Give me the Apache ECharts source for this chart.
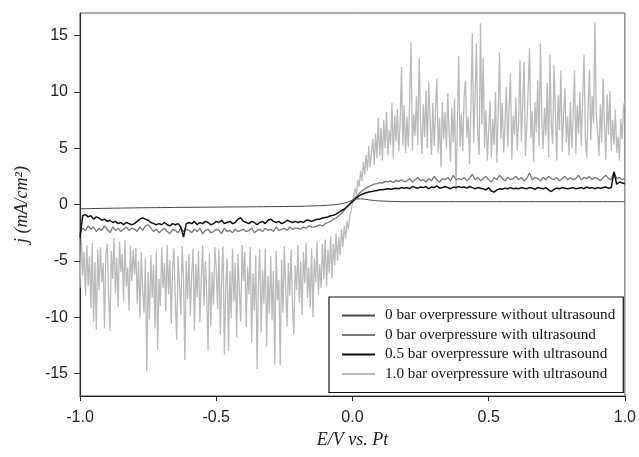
<!DOCTYPE html>
<html>
<head>
<meta charset="utf-8">
<script src="https://cdn.jsdelivr.net/npm/echarts@6/dist/echarts.min.js"></script>
<style>
html,body{margin:0;padding:0;background:#fff;}
#chart{width:639px;height:457px;}
</style>
</head>
<body>
<div id="chart"></div>
<script>
// Axis ticks
const xTicks = [-1.0, -0.5, 0.0, 0.5, 1.0];
const yTicks = [-15, -10, -5, 0, 5, 10, 15];

// Legend names
const seriesNames = [
  "0 bar overpressure without ultrasound",
  "0 bar overpressure with ultrasound",
  "0.5 bar overpressure with ultrasound",
  "1.0 bar overpressure with ultrasound"
];

// Series 1: 0 bar without ultrasound (smooth, sparse samples)
const s1E = [-1.0, -0.8, -0.6, -0.4, -0.3, -0.2, -0.15, -0.1, -0.07, -0.05, -0.03, -0.01, 0.0, 0.01, 0.02, 0.03, 0.05, 0.07, 0.1, 0.15, 0.2, 0.3, 0.5, 0.7, 1.0];
const s1J = [-0.38, -0.3, -0.25, -0.21, -0.19, -0.16, -0.13, -0.08, -0.03, 0.03, 0.12, 0.28, 0.38, 0.46, 0.5, 0.5, 0.45, 0.38, 0.32, 0.27, 0.25, 0.25, 0.25, 0.25, 0.25];

// Series 2: 0 bar with ultrasound, E from -1.00 step 0.01
const s2Start = -1.0, s2Step = 0.01;
const s2J = [
 -2.6,-2.1,-2.3,-1.9,-2.2,-2.0,-2.4,-2.1,-2.3,-1.9,-2.2,-2.5,-2.0,-2.3,-2.1,-2.4,-2.2,-2.0,-2.3,-2.1,
 -2.2,-2.4,-2.0,-2.3,-1.9,-1.8,-2.1,-2.4,-2.2,-2.5,-2.3,-2.1,-2.4,-2.6,-2.2,-2.3,-2.5,-2.1,-2.4,-2.2,
 -2.3,-2.5,-2.2,-2.4,-2.1,-2.6,-2.3,-2.2,-2.5,-2.4,-2.2,-2.3,-2.6,-2.1,-2.4,-2.3,-2.5,-2.2,-2.4,-2.3,
 -2.2,-2.4,-2.3,-2.1,-2.5,-2.3,-2.2,-2.4,-2.1,-2.3,-2.2,-2.4,-2.0,-2.3,-2.2,-2.1,-2.3,-2.0,-2.2,-2.1,
 -2.1,-2.2,-2.0,-2.1,-1.9,-2.0,-2.0,-1.9,-1.8,-1.9,-1.7,-1.6,-1.5,-1.3,-1.2,-1.0,-0.8,-0.5,-0.2,0.1,
 0.35,0.6,0.85,1.1,1.3,1.45,1.6,1.7,1.8,1.85,1.95,1.9,2.05,2.0,2.1,1.95,2.15,2.05,2.2,2.0,
 2.1,2.3,2.0,2.2,2.4,2.1,2.2,2.0,2.3,2.1,2.5,2.2,2.0,2.3,2.2,2.4,2.1,2.6,2.2,2.3,
 2.2,2.4,2.1,2.3,2.7,2.2,2.4,2.1,2.3,2.5,2.2,2.0,2.4,2.2,2.6,2.3,2.1,2.4,2.2,2.3,
 2.5,2.2,2.4,2.1,2.3,2.8,2.2,2.4,2.3,2.1,2.4,2.2,2.5,2.3,2.2,2.4,2.1,2.3,2.5,2.2,
 2.4,2.2,2.3,2.6,2.2,2.4,2.3,2.5,2.2,2.4,2.3,2.1,2.4,2.6,2.3,2.2,2.9,2.3,2.4,2.2,2.3
];

// Series 3: 0.5 bar with ultrasound, E from -1.00 step 0.01
const s3Start = -1.0, s3Step = 0.01;
const s3J = [
 -2.9,-1.0,-0.9,-1.1,-1.0,-1.3,-1.1,-1.2,-1.4,-1.3,-1.5,-1.4,-1.6,-1.5,-1.7,-1.6,-1.8,-1.6,-1.7,-1.8,
 -1.7,-1.5,-1.3,-1.2,-1.3,-1.4,-1.6,-1.7,-1.8,-1.7,-1.8,-1.6,-1.8,-1.9,-1.7,-1.8,-1.7,-2.0,-2.9,-1.7,
 -1.6,-1.7,-1.5,-1.8,-1.6,-1.7,-1.5,-1.6,-1.8,-1.7,-1.5,-1.6,-1.4,-1.7,-1.6,-1.5,-1.7,-1.6,-1.3,-1.2,
 -1.5,-1.6,-1.7,-1.5,-1.6,-1.8,-1.6,-1.5,-1.7,-1.4,-1.3,-1.5,-1.6,-1.5,-1.7,-1.6,-1.4,-1.5,-1.6,-1.5,
 -1.6,-1.5,-1.6,-1.4,-1.4,-1.5,-1.4,-1.3,-1.3,-1.2,-1.15,-1.1,-1.0,-0.95,-0.85,-0.7,-0.55,-0.4,-0.2,0.0,
 0.25,0.5,0.7,0.85,0.95,1.05,1.1,1.15,1.2,1.25,1.3,1.3,1.35,1.4,1.35,1.4,1.45,1.4,1.5,1.45,
 1.5,1.4,1.6,1.5,1.45,1.55,1.5,1.6,1.4,1.55,1.5,1.65,1.45,1.5,1.6,1.5,1.4,1.55,1.5,1.6,
 1.5,1.55,1.45,1.6,1.5,1.4,1.5,1.45,1.4,1.3,1.5,1.2,1.1,1.3,1.4,1.35,1.45,1.4,1.5,1.4,
 1.45,1.4,1.5,1.45,1.4,1.5,1.45,1.35,1.5,1.45,1.4,1.5,1.3,1.15,1.35,1.45,1.4,1.5,1.45,1.4,
 1.45,1.5,1.4,1.45,1.5,1.4,1.55,1.45,1.5,1.4,1.5,1.45,1.5,1.55,1.45,1.5,2.9,1.8,2.0,1.9,1.85
];

// Series 4: 1.0 bar with ultrasound, E from -1.000 step 0.005
const s4Start = -1.0, s4Step = 0.005;
const s4J = [
 -7.4,-3.1,-6.3,-4.2,-8.1,-3.6,-7.2,-4.6,-9.2,-3.4,-10.4,-5.1,-11.1,-4.0,-7.6,-3.8,-6.9,-5.2,-11.0,-4.3,
 -3.5,-8.0,-11.2,-4.1,-6.6,-3.0,-7.9,-4.7,-9.1,-3.3,-6.0,-4.4,-8.6,-3.2,-7.3,-5.6,-9.4,-3.7,-6.8,-4.0,
 -6.2,-3.9,-8.8,-5.0,-10.1,-4.2,-7.5,-9.6,-4.8,-14.8,-6.0,-10.2,-4.5,-8.3,-5.4,-11.0,-4.1,-12.9,-6.6,-9.0,
 -3.8,-7.4,-5.2,-9.5,-3.6,-8.0,-4.9,-10.6,-5.5,-3.9,-8.7,-12.0,-4.6,-7.1,-9.8,-3.7,-6.5,-13.8,-5.0,-8.4,
 -4.4,-9.9,-6.1,-3.9,-11.2,-5.3,-8.2,-4.1,-10.5,-6.7,-3.6,-9.0,-5.0,-7.8,-13.0,-4.3,-10.8,-6.0,-8.9,-3.8,
 -5.6,-9.3,-4.0,-11.5,-6.4,-3.7,-13.3,-7.2,-4.8,-13.0,-5.9,-10.1,-3.9,-8.6,-5.2,-11.8,-4.4,-7.7,-10.4,-3.6,
 -6.8,-4.2,-10.9,-5.5,-8.0,-3.8,-12.2,-6.1,-9.4,-4.5,-14.6,-7.0,-4.0,-11.3,-5.8,-8.8,-3.9,-12.6,-6.3,-9.7,
 -4.6,-10.3,-5.9,-14.2,-4.1,-8.5,-6.7,-14.3,-4.9,-9.6,-3.7,-7.4,-10.8,-5.2,-8.1,-4.0,-9.0,-11.5,-5.4,-7.6,
 -3.6,-8.7,-5.1,-9.8,-4.2,-7.0,-3.4,-8.3,-5.6,-9.2,-3.9,-10.0,-4.8,-6.9,-3.3,-8.0,-5.3,-7.4,-3.5,-6.6,
 -3.1,-7.2,-4.0,-6.1,-2.8,-6.6,-3.5,-5.4,-2.6,-5.0,-2.9,-4.5,-2.2,-3.8,-1.9,-3.0,-1.5,-2.2,-1.0,-0.6,
 0.1,0.8,1.4,0.9,2.2,1.6,3.0,2.1,3.8,2.6,4.4,3.0,5.2,3.3,4.6,5.8,3.5,6.3,4.1,7.7,
 4.3,6.8,3.9,7.5,5.0,8.2,4.4,6.6,5.3,9.0,4.1,7.9,5.6,8.5,4.7,7.1,12.2,5.2,8.8,4.6,
 7.8,5.1,9.2,14.4,4.8,8.0,6.1,9.6,5.3,13.0,7.2,4.5,8.9,6.0,10.1,5.0,10.9,7.5,4.4,9.0,
 5.2,8.4,11.2,4.6,7.7,3.3,9.1,5.8,8.2,4.9,9.9,6.3,3.8,8.6,5.5,9.4,1.2,7.0,13.2,5.1,
 8.0,4.7,9.6,11.0,5.9,7.8,3.6,8.8,15.2,5.5,9.3,14.3,6.2,4.4,16.1,7.1,13.0,5.0,8.4,3.9,
 6.5,9.2,4.2,7.6,5.3,10.0,3.7,8.1,13.5,5.8,9.0,4.6,7.3,10.4,5.1,8.6,11.6,4.0,7.9,6.2,
 9.5,4.8,7.4,12.8,5.6,8.9,12.7,4.3,7.0,10.2,13.9,5.9,8.3,3.8,9.1,6.4,11.0,5.2,14.3,7.7,
 4.9,8.6,6.1,10.8,4.2,13.3,7.0,5.4,12.4,8.2,3.9,9.7,6.6,11.9,4.7,8.0,10.3,5.5,7.8,4.4,
 9.1,5.0,7.7,11.9,4.5,8.8,6.3,10.0,5.2,9.4,13.3,6.0,4.1,8.5,12.0,5.7,9.6,7.2,16.2,8.0,
 6.4,4.3,8.9,5.5,11.2,7.1,4.0,9.8,6.2,10.1,4.8,7.5,5.3,8.4,4.6,6.0,3.9,7.6,5.8,8.7,9.2
];

function sweep(start, step, vals) {
  return vals.map((v, i) => [+(start + i * step).toFixed(4), v]);
}
function pairs(xs, ys) { return xs.map((x, i) => [x, ys[i]]); }

const chart = echarts.init(document.getElementById('chart'), null, {renderer: 'canvas'});
const sansFont = '"Liberation Sans", Arial, sans-serif';
const serifFont = '"Liberation Serif", "Times New Roman", serif';

chart.setOption({
  animation: false,
  backgroundColor: '#ffffff',
  grid: {
    left: 80, top: 13, right: 12, bottom: 61,
    show: true, borderColor: '#555', borderWidth: 1, containLabel: false
  },
  legend: {
    orient: 'vertical',
    left: 329, top: 297,
    data: seriesNames,
    borderColor: '#111', borderWidth: 1.2,
    padding: [11, 8, 11, 12],
    itemGap: 4.5,
    itemWidth: 33, itemHeight: 14,
    itemStyle: {color: 'rgba(0,0,0,0)', borderWidth: 0, opacity: 0},
    textStyle: {fontFamily: serifFont, fontSize: 15.2, lineHeight: 14, color: '#111', padding: [0, 0, 0, 5]},
    backgroundColor: '#fff'
  },
  xAxis: {
    type: 'value', min: -1, max: 1, interval: 0.5,
    name: 'E/V vs. Pt', nameLocation: 'middle', nameGap: 35,
    nameTextStyle: {fontFamily: serifFont, fontStyle: 'italic', fontSize: 18, color: '#222'},
    axisLine: {show: true, onZero: false, lineStyle: {color: '#222', width: 1.2}},
    axisTick: {show: true, inside: false, length: 5, lineStyle: {color: '#222'}},
    axisLabel: {margin: 14, fontFamily: sansFont, fontSize: 16, color: '#222',
      formatter: v => v.toFixed(1)},
    splitLine: {show: false}
  },
  yAxis: {
    type: 'value', min: -17, max: 17,
    name: 'j (mA/cm²)', nameLocation: 'middle', nameGap: 49, nameRotate: 90,
    nameTextStyle: {fontFamily: serifFont, fontStyle: 'italic', fontSize: 18, color: '#222'},
    axisLine: {show: true, onZero: false, lineStyle: {color: '#333', width: 1.2}},
    axisTick: {show: true, inside: false, length: 6, customValues: yTicks, lineStyle: {color: '#333'}},
    axisLabel: {margin: 12, fontFamily: sansFont, fontSize: 16, color: '#222', customValues: yTicks},
    splitLine: {show: false}
  },
  series: [
    {
      name: seriesNames[0], type: 'line', symbol: 'none', smooth: 0.4, z: 5,
      data: pairs(s1E, s1J),
      lineStyle: {color: '#444', width: 1}, itemStyle: {color: '#444'}
    },
    {
      name: seriesNames[1], type: 'line', symbol: 'none', z: 4,
      data: sweep(s2Start, s2Step, s2J),
      lineStyle: {color: '#777', width: 1.3}, itemStyle: {color: '#777'}
    },
    {
      name: seriesNames[2], type: 'line', symbol: 'none', z: 4,
      data: sweep(s3Start, s3Step, s3J),
      lineStyle: {color: '#111', width: 1.5}, itemStyle: {color: '#111'}
    },
    {
      name: seriesNames[3], type: 'line', symbol: 'none', z: 2,
      data: sweep(s4Start, s4Step, s4J),
      lineStyle: {color: '#bababa', width: 1.3}, itemStyle: {color: '#bababa'}
    }
  ]
});
</script>
</body>
</html>
